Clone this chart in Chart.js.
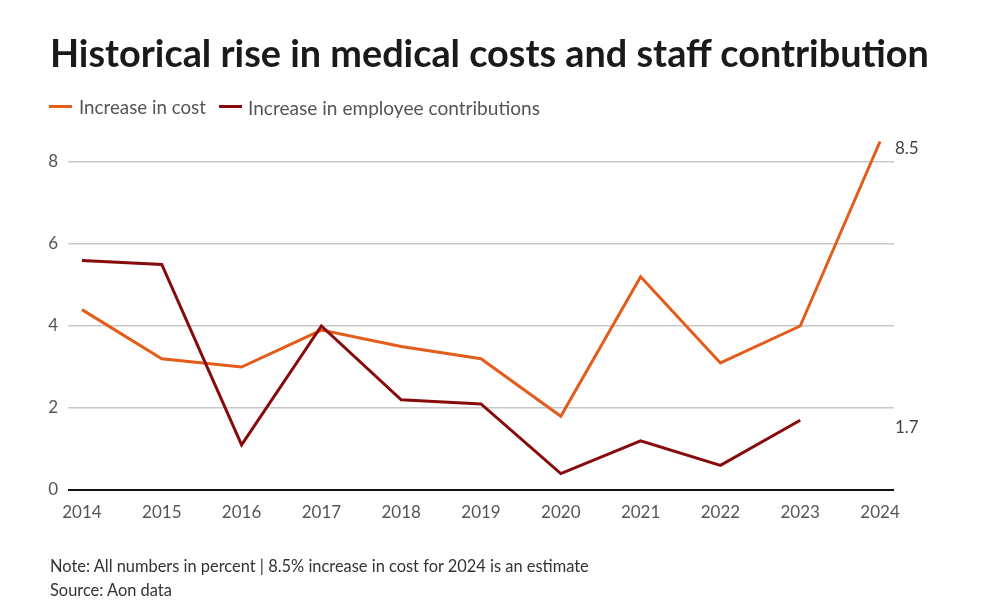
<!DOCTYPE html>
<html><head><meta charset="utf-8">
<script src="https://cdn.jsdelivr.net/npm/chart.js@4/dist/chart.umd.min.js"></script>
<style>
html,body{margin:0;padding:0;background:#fff;}
#wrap{position:relative;width:993px;height:615px;overflow:hidden;font-family:Lato,sans-serif;}
#c{position:absolute;left:0;top:0;}
.t{position:absolute;white-space:nowrap;line-height:1;}
.sw{position:absolute;height:3px;}
</style></head><body>
<div id="wrap">
<canvas id="c" width="993" height="615"></canvas>
</div>
<script>
// ---- data ----
const years = [2014, 2015, 2016, 2017, 2018, 2019, 2020, 2021, 2022, 2023, 2024];
const costIncrease = [4.4, 3.2, 3.0, 3.9, 3.5, 3.2, 1.8, 5.2, 3.1, 4.0, 8.5];
const employeeIncrease = [5.6, 5.5, 1.1, 4.0, 2.2, 2.1, 0.4, 1.2, 0.6, 1.7, null];
const yTickValues = [0, 2, 4, 6, 8];
const seriesNames = ['Increase in cost', 'Increase in employee contributions'];
const titleText = 'Historical rise in medical costs and staff contribution';
const noteText = 'Note: All numbers in percent | 8.5% increase in cost for 2024 is an estimate';
const sourceText = 'Source: Aon data';

// ---- styles ----
const colors = ['#e35c1b', '#870b0b'];
const FONT = 'Lato';
const wrap = document.getElementById('wrap');
const mctx = document.createElement('canvas').getContext('2d');
function fitSize(text, weight, targetW) {
  mctx.font = weight + ' 100px ' + FONT;
  return 100 * targetW / mctx.measureText(text).width;
}
function addText(text, x, baseline, size, weight, color) {
  const d = document.createElement('div');
  d.className = 't';
  d.textContent = text;
  d.style.left = x + 'px';
  d.style.top = (baseline - 0.887 * size) + 'px';
  d.style.fontSize = size + 'px';
  d.style.fontWeight = weight;
  d.style.color = color;
  wrap.appendChild(d);
  return d;
}
// title
addText(titleText, 50, 68, fitSize(titleText, 'bold', 880), 'bold', '#1a1a1a');
// legend
const legendLayout = [{sx: 49, tx: 79, tw: 127}, {sx: 219, tx: 248, tw: 292}];
seriesNames.forEach((n, i) => {
  const L = legendLayout[i];
  const s = document.createElement('div');
  s.className = 'sw';
  s.style.left = L.sx + 'px'; s.style.top = '104.5px'; s.style.width = '23px';
  s.style.background = colors[i];
  wrap.appendChild(s);
  addText(n, L.tx, 115, fitSize(n, 'normal', L.tw), 'normal', '#555');
});
// notes
addText(noteText, 50, 573, fitSize(noteText, 'normal', 540), 'normal', '#333');
addText(sourceText, 50, 597, fitSize(noteText, 'normal', 540), 'normal', '#333');

// ---- end labels plugin ----
const endLabels = {
  id: 'endLabels',
  afterDatasetsDraw(chart) {
    const {ctx, chartArea, scales} = chart;
    ctx.save();
    ctx.font = '17px ' + FONT;
    ctx.fillStyle = '#444';
    ctx.textBaseline = 'middle';
    ctx.textAlign = 'left';
    chart.data.datasets.forEach(ds => {
      const vals = ds.data.filter(p => p.y !== null);
      const last = vals[vals.length - 1];
      ctx.fillText(last.y.toFixed(1), chartArea.right + 1, scales.y.getPixelForValue(last.y) + 7);
    });
    ctx.restore();
  }
};

const toPoints = arr => years.map((yr, i) => ({x: yr, y: arr[i]}));

new Chart(document.getElementById('c'), {
  type: 'line',
  data: {
    datasets: [
      {label: seriesNames[0], data: toPoints(costIncrease), borderColor: colors[0], backgroundColor: colors[0],
       borderWidth: 3, pointRadius: 0, tension: 0, clip: false, order: 2},
      {label: seriesNames[1], data: toPoints(employeeIncrease), borderColor: colors[1], backgroundColor: colors[1],
       borderWidth: 3, pointRadius: 0, tension: 0, clip: false, spanGaps: false, order: 1}
    ]
  },
  options: {
    responsive: false,
    animation: false,
    layout: {padding: {left: 0, right: 99, top: 141.5, bottom: 85}},
    plugins: {legend: {display: false}, tooltip: {enabled: false}, title: {display: false}},
    scales: {
      x: {
        type: 'linear',
        min: years[0] - 0.175,
        max: years[years.length - 1] + 0.175,
        afterBuildTicks: s => { s.ticks = years.map(v => ({value: v})); },
        afterFit: s => { s.height = 40; },
        grid: {display: false},
        border: {display: false},
        ticks: {font: {family: FONT, size: 17}, color: '#555', padding: 4, maxRotation: 0,
                autoSkip: false, callback: v => String(v)}
      },
      y: {
        min: 0,
        max: 8.5,
        afterBuildTicks: s => { s.ticks = yTickValues.map(v => ({value: v})); },
        afterFit: s => { s.width = 68; },
        grid: {
          drawTicks: false,
          color: c => c.tick && c.tick.value === 0 ? '#111' : '#c8c8c8',
          lineWidth: c => c.tick && c.tick.value === 0 ? 2 : 1.5
        },
        border: {display: false},
        ticks: {font: {family: FONT, size: 17}, color: '#555', padding: 10, callback: v => String(v)}
      }
    }
  },
  plugins: [endLabels]
});
</script>
</body></html>
